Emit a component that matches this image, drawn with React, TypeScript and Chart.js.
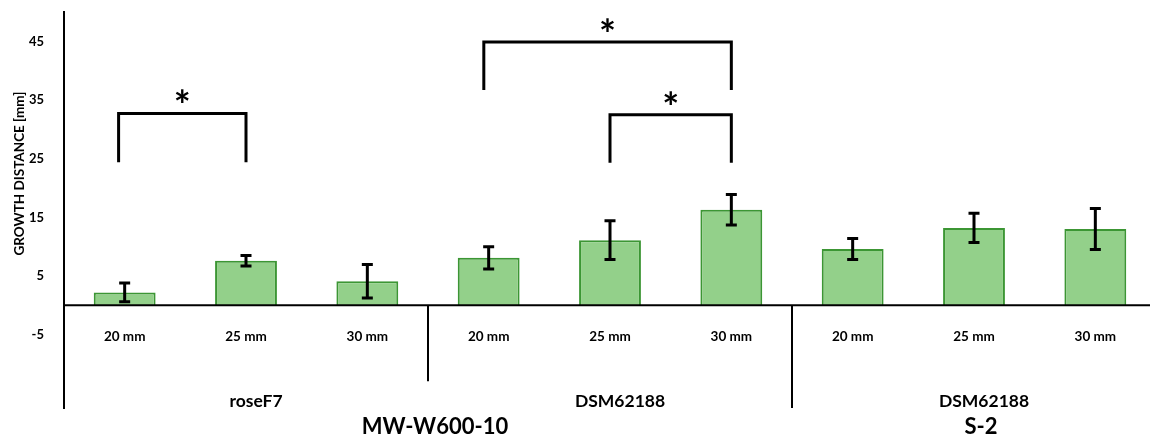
import React, { useEffect, useRef } from "react";
import { Chart, registerables } from "chart.js";

Chart.register(...registerables);

const categories = ["20 mm", "25 mm", "30 mm", "20 mm", "25 mm", "30 mm", "20 mm", "25 mm", "30 mm"];
const growthValues = [2.2, 7.6, 4.1, 8.1, 11.1, 16.3, 9.6, 13.2, 13.0];
const errorValues = [1.6, 0.9, 2.85, 1.9, 3.3, 2.6, 1.8, 2.5, 3.5];
const yTickValues = [45, 35, 25, 15, 5, -5];
const strainLabels = ["roseF7", "DSM62188", "DSM62188"];
const strainSpans = [[0, 2], [3, 5], [6, 8]];
const mediumLabels = ["MW-W600-10", "S-2"];
const mediumSpans = [[0, 5], [6, 8]];
const bracketFrom = [-0.05, 2.96, 4.0];
const bracketTo = [1.0, 5.0, 5.0];
const bracketTop = [32.7, 44.9, 32.5];
const bracketLegBottom = [24.4, 36.7, 24.3];

const FONT = "Lato, 'Open Sans', sans-serif";

const annotationPlugin = {
  id: "annotations",
  afterDatasetsDraw(chart: any) {
    const { ctx, chartArea } = chart;
    const x = chart.scales.x;
    const y = chart.scales.y;
    const y0 = y.getPixelForValue(0);
    ctx.save();
    // zero axis line
    ctx.strokeStyle = "#000";
    ctx.lineWidth = 2;
    ctx.beginPath();
    ctx.moveTo(chartArea.left, y0);
    ctx.lineTo(chartArea.right, y0);
    ctx.stroke();

    // error bars
    ctx.lineWidth = 3;
    ctx.lineCap = "butt";
    growthValues.forEach((v, i) => {
      const xc = x.getPixelForValue(i);
      const yt = y.getPixelForValue(v + errorValues[i]);
      const yb = y.getPixelForValue(v - errorValues[i]);
      ctx.beginPath();
      ctx.moveTo(xc, yt);
      ctx.lineTo(xc, yb);
      ctx.moveTo(xc - 5.5, yt);
      ctx.lineTo(xc + 5.5, yt);
      ctx.moveTo(xc - 5.5, yb);
      ctx.lineTo(xc + 5.5, yb);
      ctx.stroke();
    });

    // significance brackets
    ctx.lineWidth = 3;
    ctx.lineJoin = "miter";
    bracketFrom.forEach((f, i) => {
      const xl = x.getPixelForValue(f);
      const xr = x.getPixelForValue(bracketTo[i]);
      const yt = y.getPixelForValue(bracketTop[i]);
      const yb = y.getPixelForValue(bracketLegBottom[i]);
      ctx.beginPath();
      ctx.moveTo(xl, yb);
      ctx.lineTo(xl, yt);
      ctx.lineTo(xr, yt);
      ctx.lineTo(xr, yb);
      ctx.stroke();
      ctx.fillStyle = "#000";
      ctx.font = `bold 40px ${FONT}`;
      ctx.textAlign = "center";
      ctx.textBaseline = "alphabetic";
      ctx.fillText("*", (xl + xr) / 2, yt + 7);
    });

    // category labels
    ctx.fillStyle = "#000";
    ctx.font = `bold 13.5px ${FONT}`;
    ctx.textAlign = "center";
    ctx.textBaseline = "alphabetic";
    categories.forEach((c, i) => {
      ctx.fillText(c, x.getPixelForValue(i), y0 + 36);
    });

    // separators
    ctx.lineWidth = 2;
    ctx.beginPath();
    ctx.moveTo(x.getPixelForValue(2.5), y0);
    ctx.lineTo(x.getPixelForValue(2.5), y0 + 76);
    ctx.moveTo(x.getPixelForValue(5.5), y0);
    ctx.lineTo(x.getPixelForValue(5.5), chartArea.bottom);
    ctx.stroke();

    // strain labels
    ctx.font = `bold 17.5px ${FONT}`;
    strainLabels.forEach((s, i) => {
      const [a, b] = strainSpans[i];
      const xc = (x.getPixelForValue(a) + x.getPixelForValue(b)) / 2 + 10;
      ctx.fillText(s, xc, chartArea.bottom - 1);
    });

    // medium labels
    ctx.font = `bold 22px ${FONT}`;
    mediumLabels.forEach((s, i) => {
      const [a, b] = mediumSpans[i];
      const xc = (x.getPixelForValue(a) + x.getPixelForValue(b)) / 2 + 7;
      ctx.fillText(s, xc, chartArea.bottom + 26);
    });

    // y axis title
    ctx.save();
    ctx.translate(20, 173.5);
    ctx.rotate(-Math.PI / 2);
    ctx.textBaseline = "middle";
    ctx.font = `bold 13.5px ${FONT}`;
    ctx.fillText("GROWTH DISTANCE [mm]", 0, 0);
    ctx.restore();

    ctx.restore();
  },
};

export default function App() {
  const canvasRef = useRef<HTMLCanvasElement | null>(null);

  useEffect(() => {
    if (!canvasRef.current) return;
    const chart = new Chart(canvasRef.current, {
      type: "bar",
      data: {
        labels: categories,
        datasets: [
          {
            data: growthValues,
            backgroundColor: "#93D08A",
            borderColor: "#3C9634",
            borderWidth: 2,
            barPercentage: 0.51,
            categoryPercentage: 1,
          },
        ],
      },
      options: {
        animation: false,
        responsive: true,
        maintainAspectRatio: false,
        layout: { padding: { top: 12, bottom: 28, left: 0, right: 1 } },
        plugins: {
          legend: { display: false },
          tooltip: { enabled: false },
          title: { display: false },
        },
        scales: {
          x: {
            type: "category",
            display: false,
            offset: true,
          },
          y: {
            min: -17.5,
            max: 50,
            grid: { display: false },
            border: { display: true, color: "#000", width: 2 },
            afterBuildTicks: (scale: any) => {
              scale.ticks = yTickValues.map((v) => ({ value: v }));
            },
            afterFit: (scale: any) => {
              scale.width = 64;
              scale.paddingTop = 0;
              scale.paddingBottom = 0;
            },
            ticks: {
              padding: 12,
              color: "#000",
              font: { family: FONT, size: 13, weight: "bold" },
            },
          },
        },
      },
      plugins: [annotationPlugin],
    });
    return () => chart.destroy();
  }, []);

  return (
    <div style={{ position: "absolute", left: 0, top: 0, width: 1150, height: 436, overflow: "hidden", background: "#fff" }}>
      <div style={{ position: "relative", width: 1157, height: 436 }}>
        <canvas ref={canvasRef} />
      </div>
    </div>
  );
}
